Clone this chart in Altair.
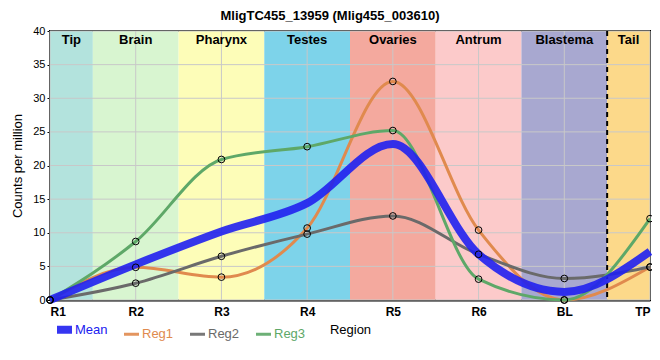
import altair as alt
import pandas as pd

regions = ["R1", "R2", "R3", "R4", "R5", "R6", "BL", "TP"]
mean_vals = [0, 5.3, 10.2, 14.4, 23.2, 6.8, 1.2, 7.2]
reg1_vals = [0, 4.86, 3.4, 10.7, 32.5, 10.4, 0, 4.9]
reg2_vals = [0, 2.5, 6.5, 9.8, 12.5, 6.8, 3.2, 4.9]
reg3_vals = [0, 8.7, 20.9, 22.8, 25.2, 3.1, 0, 12.1]

band_names = ["Tip", "Brain", "Pharynx", "Testes", "Ovaries", "Antrum", "Blastema", "Tail"]
band_start = [0, 0.5, 1.5, 2.5, 3.5, 4.5, 5.5, 6.5]
band_end = [0.5, 1.5, 2.5, 3.5, 4.5, 5.5, 6.5, 7]
band_colors = ["#b3e3dd", "#d8f5d0", "#fdfdb8", "#7dd3ea", "#f4a99e", "#fccaca", "#a8a8d0", "#fcd98a"]

series_names = ["Mean", "Reg1", "Reg2", "Reg3"]
series_colors = ["#2020f0", "#e08a4e", "#6a6a6a", "#5ea868"]

y_ticks = [0, 5, 10, 15, 20, 25, 30, 35, 40]
x_ticks = list(range(len(regions)))
dash_pos = [6.5]

FONT = "Liberation Sans"

bands = pd.DataFrame({"name": band_names, "x0": band_start, "x1": band_end, "col": band_colors})
bands["mid"] = (bands["x0"] + bands["x1"]) / 2

rows = []
for name, vals in zip(series_names, [mean_vals, reg1_vals, reg2_vals, reg3_vals]):
    for i, v in enumerate(vals):
        rows.append({"series": name, "xi": i, "region": regions[i], "value": v})
df = pd.DataFrame(rows)

xscale = alt.Scale(domain=[0, 7], nice=False, zero=False)
yscale = alt.Scale(domain=[0, 40], nice=False)
label_expr = "[" + ",".join("'%s'" % r for r in regions) + "][datum.value]"

x_axis = alt.Axis(values=x_ticks, labelExpr=label_expr, title="Region", grid=False,
                  tickSize=0, labelPadding=6, labelFontSize=12, labelFontWeight="bold",
                  labelColor="black", titleFontSize=13, titleFontWeight="normal",
                  titlePadding=6, domainColor="black", domainWidth=2, labelFont=FONT,
                  titleFont=FONT, labelOverlap=False)
y_axis = alt.Axis(values=y_ticks, title="Counts per million", grid=False, tickSize=3,
                  labelPadding=2, labelFontSize=11, labelColor="black", titleFontSize=13,
                  titleFontWeight="normal", titlePadding=8, domainColor="black", domainWidth=2,
                  tickColor="black", labelFont=FONT, titleFont=FONT, labelOverlap=False,
                  labelFlush=False)

X = lambda f: alt.X(f, scale=xscale, axis=x_axis)
Y = lambda f: alt.Y(f, scale=yscale, axis=y_axis)

base_band = alt.Chart(bands)
rects = base_band.mark_rect().encode(
    x=X("x0:Q"),
    x2="x1:Q",
    y=alt.value(0),
    y2=alt.value(269),
    color=alt.Color("col:N", scale=None),
)
band_text = base_band.mark_text(baseline="top", fontSize=13, fontWeight="bold", font=FONT,
                                color="black").encode(
    x=X("mid:Q"), y=alt.value(3), text="name:N")

hgrid = alt.Chart(pd.DataFrame({"v": y_ticks})).mark_rule(color="#c8c8c8", strokeWidth=1).encode(
    y=Y("v:Q"))
vgrid = alt.Chart(pd.DataFrame({"v": x_ticks})).mark_rule(color="#c8c8c8", strokeWidth=1).encode(
    x=X("v:Q"))
dash = alt.Chart(pd.DataFrame({"v": dash_pos})).mark_rule(color="black", strokeWidth=2,
                                                           strokeDash=[5, 4]).encode(
    x=X("v:Q"))

color_enc = alt.Color(
    "series:N",
    scale=alt.Scale(domain=series_names, range=series_colors),
    legend=alt.Legend(
        orient="none", legendX=8, legendY=292, direction="horizontal", columns=4,
        title=None, symbolType="stroke", symbolSize=225,
        symbolStrokeWidth={"expr": "datum.value == 'Mean' ? 8 : 3"},
        labelColor={"expr": "scale('color', datum.value)"},
        labelFontSize=13, labelFont=FONT, columnPadding=10, labelOffset=4,
    ),
)

regs = alt.Chart(df[df.series != "Mean"]).mark_line(interpolate="monotone", strokeWidth=3).encode(
    x=X("xi:Q"), y=Y("value:Q"), color=color_enc, detail="series:N")
mean_line = alt.Chart(df[df.series == "Mean"]).mark_line(interpolate="monotone", strokeWidth=8,
                                                         opacity=0.9).encode(
    x=X("xi:Q"), y=Y("value:Q"), color=color_enc)
pts = alt.Chart(df[df.series != "Mean"]).mark_point(shape="circle", filled=False, color="black",
                                                    size=45, strokeWidth=1, opacity=1).encode(
    x=X("xi:Q"), y=Y("value:Q"))

chart = alt.layer(rects, hgrid, vgrid, dash, band_text, regs, mean_line, pts).properties(
    width=600, height=269,
    padding={"left": 42, "top": 23, "right": 2, "bottom": 52},
    autosize=alt.AutoSizeParams(type="none"),
    title=alt.Title("MligTC455_13959 (Mlig455_003610)", fontSize=13, fontWeight="bold",
                    font=FONT, anchor="middle", dx=-20, offset=2, color="black"),
).configure_view(stroke="black", strokeWidth=2)

chart.save("out.html", embed_options={"renderer": "svg", "actions": False})
